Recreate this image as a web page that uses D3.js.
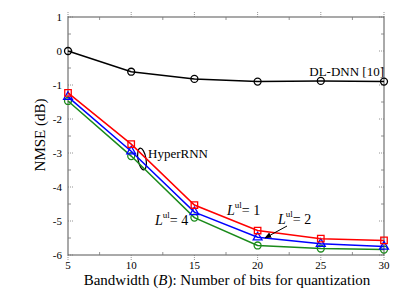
<!DOCTYPE html>
<html>
<head>
<meta charset="utf-8">
<script src="https://cdn.jsdelivr.net/npm/d3@7"></script>
<style>
  body { margin: 0; background: #fff; }
  text { font-family: "Liberation Serif", "Times New Roman", serif; fill: #000; }
</style>
</head>
<body>
<svg id="chart" width="407" height="306"></svg>
<script>
// data
const bits = [5, 10, 15, 20, 25, 30];
const dlDnn = [0, -0.61, -0.82, -0.90, -0.88, -0.90];
const hyperL1 = [-1.23, -2.74, -4.53, -5.28, -5.52, -5.57];
const hyperL2 = [-1.35, -2.95, -4.74, -5.48, -5.67, -5.75];
const hyperL4 = [-1.47, -3.09, -4.90, -5.72, -5.81, -5.84];
const xTicks = [5, 10, 15, 20, 25, 30];
const yTicks = [1, 0, -1, -2, -3, -4, -5, -6];

const svg = d3.select('#chart');
const x = d3.scaleLinear().domain([5, 30]).range([68, 384]);
const y = d3.scaleLinear().domain([-6, 1]).range([255, 17]);

// frame
svg.append('rect')
    .attr('x', x(5)).attr('y', y(1))
    .attr('width', x(30) - x(5)).attr('height', y(-6) - y(1))
    .attr('fill', 'none').attr('stroke', '#555').attr('stroke-width', 1);

const tickG = svg.append('g').attr('stroke', '#777').attr('stroke-width', 0.8);
// major ticks, dotted
xTicks.forEach(v => {
    [[y(-6), -6], [y(1), 6]].forEach(([y0, d]) => {
        tickG.append('line').attr('x1', x(v)).attr('x2', x(v))
            .attr('y1', y0).attr('y2', y0 - d).attr('stroke-dasharray', '1,1');
    });
});
yTicks.forEach(v => {
    [[x(5), 6], [x(30), -6]].forEach(([x0, d]) => {
        tickG.append('line').attr('y1', y(v)).attr('y2', y(v))
            .attr('x1', x0).attr('x2', x0 + d).attr('stroke-dasharray', '1,1');
    });
});
// minor ticks
d3.range(7.5, 30, 5).forEach(v => {
    tickG.append('line').attr('x1', x(v)).attr('x2', x(v)).attr('y1', y(-6)).attr('y2', y(-6) - 3);
    tickG.append('line').attr('x1', x(v)).attr('x2', x(v)).attr('y1', y(1)).attr('y2', y(1) + 3);
});
d3.range(-5.5, 1, 1).forEach(v => {
    tickG.append('line').attr('y1', y(v)).attr('y2', y(v)).attr('x1', x(5)).attr('x2', x(5) + 3);
    tickG.append('line').attr('y1', y(v)).attr('y2', y(v)).attr('x1', x(30)).attr('x2', x(30) - 3);
});

// tick labels
svg.append('g').selectAll('text').data(xTicks).join('text')
    .attr('x', d => x(d)).attr('y', 269)
    .attr('text-anchor', 'middle').attr('font-size', 11)
    .text(d => d);
svg.append('g').selectAll('text').data(yTicks).join('text')
    .attr('x', 62).attr('y', d => y(d) + 4)
    .attr('text-anchor', 'end').attr('font-size', 11)
    .text(d => d);

// axis titles
const xt = svg.append('text').attr('x', 227).attr('y', 285)
    .attr('text-anchor', 'middle').attr('font-size', 15);
xt.append('tspan').text('Bandwidth (');
xt.append('tspan').attr('font-style', 'italic').text('B');
xt.append('tspan').text('): Number of bits for quantization');

svg.append('text')
    .attr('transform', 'translate(45,135) rotate(-90)')
    .attr('text-anchor', 'middle').attr('font-size', 15)
    .text('NMSE (dB)');

// HyperRNN ellipse (drawn below lines)
svg.append('ellipse')
    .attr('cx', 142).attr('cy', 159).attr('rx', 4).attr('ry', 11)
    .attr('transform', 'rotate(-10,142,159)')
    .attr('fill', 'none').attr('stroke', '#000').attr('stroke-width', 1.2);

const series = [
    { values: dlDnn, color: '#000', marker: 'circle' },
    { values: hyperL4, color: '#1a8a1a', marker: 'circle' },
    { values: hyperL2, color: '#0000ff', marker: 'triangle' },
    { values: hyperL1, color: '#ff0000', marker: 'square' }
];

const line = d3.line().x((d, i) => x(bits[i])).y(d => y(d));

series.forEach(s => {
    const g = svg.append('g');
    g.append('path').datum(s.values)
        .attr('d', line).attr('fill', 'none')
        .attr('stroke', s.color).attr('stroke-width', 1.5);
    const sym = s.marker === 'circle' ? d3.symbolCircle
        : s.marker === 'square' ? d3.symbolSquare : d3.symbolTriangle;
    const size = s.marker === 'circle' ? 38 : s.marker === 'square' ? 42 : 34;
    g.selectAll('path.m').data(s.values).join('path')
        .attr('class', 'm')
        .attr('transform', (d, i) => `translate(${x(bits[i])},${y(d)})`)
        .attr('d', d3.symbol().type(sym).size(size))
        .attr('fill', 'none').attr('stroke', s.color).attr('stroke-width', 1.3);
});

// annotations
svg.append('text').attr('x', 384).attr('y', 76)
    .attr('text-anchor', 'end').attr('font-size', 13).text('DL-DNN [10]');
svg.append('text').attr('x', 148).attr('y', 158)
    .attr('font-size', 13).text('HyperRNN');

function lul(xp, yp, n) {
    const t = svg.append('text').attr('x', xp).attr('y', yp).attr('font-size', 14);
    t.append('tspan').attr('font-style', 'italic').text('L');
    t.append('tspan').attr('dy', -7).attr('font-size', 9).text('ul');
    t.append('tspan').attr('dy', 7).text('= ' + n);
}
lul(227, 215, 1);
lul(155, 225, 4);
lul(278, 224, 2);

svg.append('defs').append('marker')
    .attr('id', 'ah').attr('viewBox', '0 0 10 10')
    .attr('refX', 9).attr('refY', 5)
    .attr('markerWidth', 7).attr('markerHeight', 7).attr('orient', 'auto')
    .append('path').attr('d', 'M0,1 L10,5 L0,9 Z').attr('fill', '#000');
svg.append('line')
    .attr('x1', 287).attr('y1', 226).attr('x2', 265).attr('y2', 238)
    .attr('stroke', '#000').attr('stroke-width', 1)
    .attr('marker-end', 'url(#ah)');
</script>
</body>
</html>
